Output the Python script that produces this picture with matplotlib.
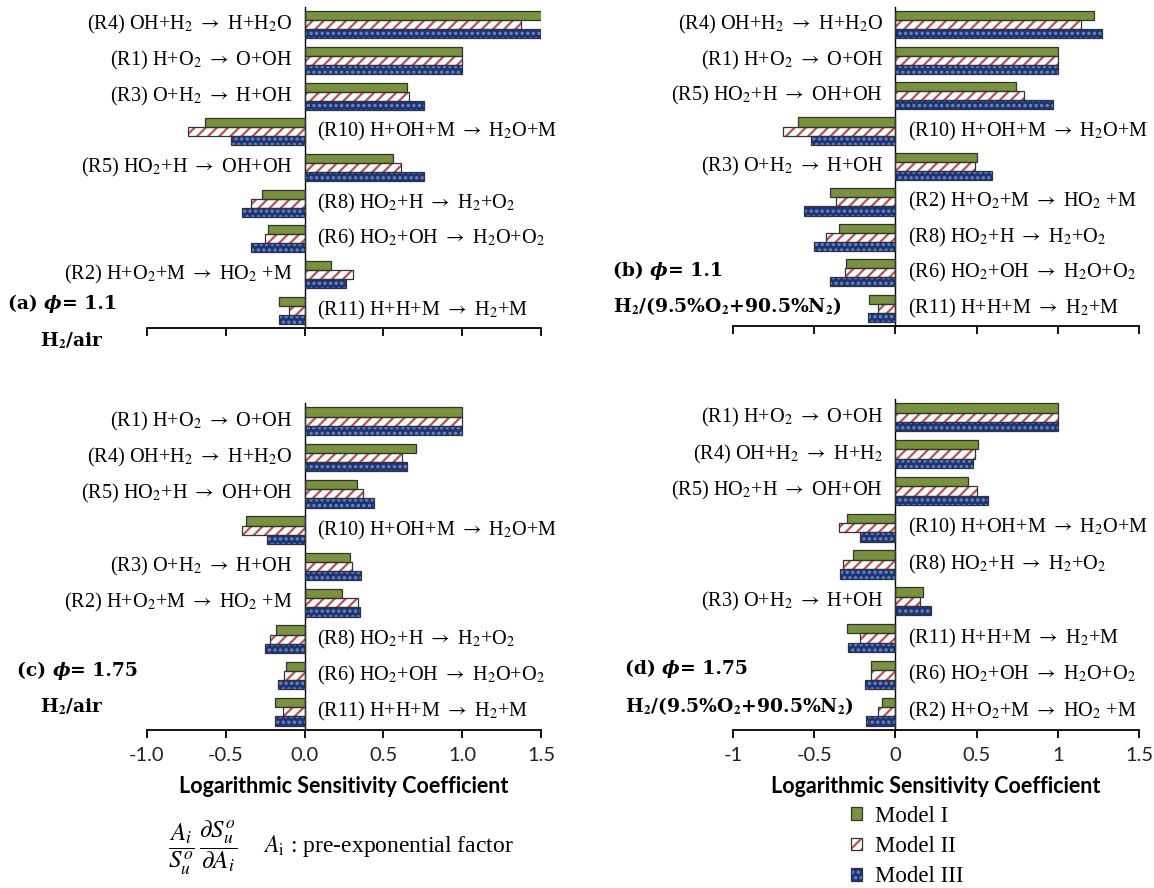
import matplotlib
matplotlib.use("Agg")
import matplotlib.pyplot as plt
from matplotlib.legend_handler import HandlerTuple

plt.rcParams['mathtext.fontset'] = 'stix'
plt.rcParams['hatch.linewidth'] = 1.6

W, H = 1154, 888

models = ['Model I', 'Model II', 'Model III']

AR = r'$\rightarrow$'

# (a) phi = 1.1, H2/air
rxn_a = [r'(R4) OH+H$_2$ → H+H$_2$O', r'(R1) H+O$_2$ → O+OH', r'(R3) O+H$_2$ → H+OH',
         r'(R10) H+OH+M → H$_2$O+M', r'(R5) HO$_2$+H → OH+OH', r'(R8) HO$_2$+H → H$_2$+O$_2$',
         r'(R6) HO$_2$+OH → H$_2$O+O$_2$', r'(R2) H+O$_2$+M → HO$_2$ +M', r'(R11) H+H+M → H$_2$+M']
m1_a = [1.53, 1.00, 0.65, -0.63, 0.56, -0.27, -0.23, 0.17, -0.16]
m2_a = [1.37, 1.00, 0.66, -0.74, 0.61, -0.34, -0.25, 0.31, -0.10]
m3_a = [1.52, 1.00, 0.76, -0.47, 0.76, -0.40, -0.34, 0.26, -0.16]

# (b) phi = 1.1, H2/(9.5%O2+90.5%N2)
rxn_b = [r'(R4) OH+H$_2$ → H+H$_2$O', r'(R1) H+O$_2$ → O+OH', r'(R5) HO$_2$+H → OH+OH',
         r'(R10) H+OH+M → H$_2$O+M', r'(R3) O+H$_2$ → H+OH', r'(R2) H+O$_2$+M → HO$_2$ +M',
         r'(R8) HO$_2$+H → H$_2$+O$_2$', r'(R6) HO$_2$+OH → H$_2$O+O$_2$', r'(R11) H+H+M → H$_2$+M']
m1_b = [1.22, 1.00, 0.745, -0.60, 0.505, -0.405, -0.35, -0.305, -0.16]
m2_b = [1.14, 1.00, 0.79, -0.69, 0.49, -0.365, -0.43, -0.31, -0.105]
m3_b = [1.27, 1.00, 0.97, -0.52, 0.595, -0.565, -0.50, -0.40, -0.17]

# (c) phi = 1.75, H2/air
rxn_c = [r'(R1) H+O$_2$ → O+OH', r'(R4) OH+H$_2$ → H+H$_2$O', r'(R5) HO$_2$+H → OH+OH',
         r'(R10) H+OH+M → H$_2$O+M', r'(R3) O+H$_2$ → H+OH', r'(R2) H+O$_2$+M → HO$_2$ +M',
         r'(R8) HO$_2$+H → H$_2$+O$_2$', r'(R6) HO$_2$+OH → H$_2$O+O$_2$', r'(R11) H+H+M → H$_2$+M']
m1_c = [1.00, 0.71, 0.33, -0.37, 0.29, 0.24, -0.18, -0.12, -0.19]
m2_c = [1.00, 0.62, 0.37, -0.40, 0.30, 0.34, -0.22, -0.13, -0.14]
m3_c = [1.00, 0.65, 0.44, -0.24, 0.36, 0.35, -0.25, -0.17, -0.19]

# (d) phi = 1.75, H2/(9.5%O2+90.5%N2)
rxn_d = [r'(R1) H+O$_2$ → O+OH', r'(R4) OH+H$_2$ → H+H$_2$', r'(R5) HO$_2$+H → OH+OH',
         r'(R10) H+OH+M → H$_2$O+M', r'(R8) HO$_2$+H → H$_2$+O$_2$', r'(R3) O+H$_2$ → H+OH',
         r'(R11) H+H+M → H$_2$+M', r'(R6) HO$_2$+OH → H$_2$O+O$_2$', r'(R2) H+O$_2$+M → HO$_2$ +M']
m1_d = [1.00, 0.51, 0.45, -0.30, -0.26, 0.17, -0.30, -0.15, -0.08]
m2_d = [1.00, 0.49, 0.50, -0.35, -0.32, 0.15, -0.22, -0.15, -0.105]
m3_d = [1.00, 0.48, 0.57, -0.22, -0.34, 0.22, -0.29, -0.19, -0.18]

xticks = [-1.0, -0.5, 0.0, 0.5, 1.0, 1.5]
xtick_lbl_c = ['-1.0', '-0.5', '0.0', '0.5', '1.0', '1.5']
xtick_lbl_d = ['-1', '-0.5', '0', '0.5', '1', '1.5']
xlabel = 'Logarithmic Sensitivity Coefficient'

# bar styles: (face, hatch, hatch colour)
styles = [('#77933C', None, '#77933C'),
          ('white', '///', '#C0504D'),
          ('#1A3578', '...', '#6A88C8')]
OUTLINE = '#333333'

SERIF = ['Liberation Serif', 'DejaVu Serif']
SANS = ['Lato', 'DejaVu Sans']

fig = plt.figure(figsize=(W / 100, H / 100), dpi=100)


def rect(l, r, t, b):
    return [l / W, 1 - b / H, (r - l) / W, (b - t) / H]


def panel(box, labels, series, ticklabels=None):
    ax = fig.add_axes(rect(*box))
    n = len(labels)
    bh = 0.255
    handles = []
    for k, (vals, (fc, hatch, hc)) in enumerate(zip(series, styles)):
        ypos = [i - bh + k * bh for i in range(n)]
        fill = ax.barh(ypos, vals, height=bh, color=fc, hatch=hatch,
                       edgecolor=hc, linewidth=0, zorder=2)
        edge = ax.barh(ypos, vals, height=bh, fill=False,
                       edgecolor=OUTLINE, linewidth=0.9, zorder=3)
        handles.append((fill, edge))
    for i, lab in enumerate(labels):
        lab = lab.replace(' → ', ' ' + AR + ' ')
        v = series[0][i] + series[1][i] + series[2][i]
        if v >= 0:
            ax.text(-0.075, i, lab, ha='right', va='center', fontsize=14.6,
                    family=SERIF)
        else:
            ax.text(0.08, i, lab, ha='left', va='center', fontsize=14.6,
                    family=SERIF)
    ax.set_xlim(-1.0, 1.5)
    ax.set_ylim(n - 0.5, -0.5)
    ax.set_yticks([])
    for s in ('top', 'right'):
        ax.spines[s].set_visible(False)
    ax.spines['left'].set_position(('data', 0))
    ax.spines['left'].set_linewidth(1.0)
    ax.spines['bottom'].set_linewidth(1.3)
    ax.set_xticks(xticks)
    ax.tick_params(axis='x', direction='out', length=6, width=1.3, pad=6)
    if ticklabels is None:
        ax.set_xticklabels([])
    else:
        ax.set_xticklabels(ticklabels, fontsize=14.5, family=SANS, color='#222222')
        ax.set_xlabel(xlabel, fontsize=15.5, fontweight='bold', family=SANS,
                      labelpad=9)
    ax.patch.set_visible(False)
    return ax, handles


panel((147, 541, 7, 328), rxn_a, [m1_a, m2_a, m3_a])
panel((733, 1139, 7, 326), rxn_b, [m1_b, m2_b, m3_b])
panel((147, 541, 403, 730), rxn_c, [m1_c, m2_c, m3_c], xtick_lbl_c)
_, handles = panel((733, 1139, 399, 730), rxn_d, [m1_d, m2_d, m3_d], xtick_lbl_d)

renderer = fig.canvas.get_renderer()
TFONT = ['DejaVu Serif']


def title(parts, x, y):
    """Write a run of differently styled text pieces on one baseline (pixels)."""
    xx = x
    for s, style in parts:
        t = fig.text(xx / W, 1 - y / H, s, fontsize=13.5, family=TFONT,
                     fontweight='bold', fontstyle=style, va='baseline', ha='left')
        bb = t.get_window_extent(renderer)
        xx = bb.x1


def phi_title(tag, val, x, y):
    title([('(%s) ' % tag, 'normal'), ('ϕ', 'italic'), ('= %s' % val, 'normal')], x, y)


phi_title('a', '1.1', 8, 309)
fig.text(40 / W, 1 - 346 / H, r'H$_\mathbf{2}$/air', fontsize=13.5, family=TFONT,
         fontweight='bold', va='baseline')
phi_title('b', '1.1', 613, 276)
fig.text(613 / W, 1 - 312 / H, r'H$_\mathbf{2}$/(9.5%O$_\mathbf{2}$+90.5%N$_\mathbf{2}$)',
         fontsize=13.5, family=TFONT, fontweight='bold', va='baseline')
phi_title('c', '1.75', 17, 676)
fig.text(40 / W, 1 - 712 / H, r'H$_\mathbf{2}$/air', fontsize=13.5, family=TFONT,
         fontweight='bold', va='baseline')
phi_title('d', '1.75', 625, 674)
fig.text(625 / W, 1 - 712 / H, r'H$_\mathbf{2}$/(9.5%O$_\mathbf{2}$+90.5%N$_\mathbf{2}$)',
         fontsize=13.5, family=TFONT, fontweight='bold', va='baseline')

# definition of the sensitivity coefficient
fig.text(168 / W, 1 - 848 / H,
         r'$\dfrac{A_i}{S_u^o}\,\dfrac{\partial S_u^o}{\partial A_i}$',
         fontsize=18, va='center', ha='left')
fig.text(263 / W, 1 - 846 / H, r'$A_{\mathrm{i}}$ : pre-exponential factor',
         fontsize=17, family=SERIF, va='center', ha='left')

fig.legend(handles, models, handler_map={tuple: HandlerTuple(ndivide=1, pad=0)},
           loc='upper left', bbox_to_anchor=(851 / W, 1 - 806 / H),
           frameon=False, prop={'family': SERIF, 'size': 16.5},
           handlelength=0.48, handleheight=0.48, handletextpad=0.55,
           labelspacing=0.4, borderpad=0, borderaxespad=0)

fig.savefig('out.png', dpi=100)
